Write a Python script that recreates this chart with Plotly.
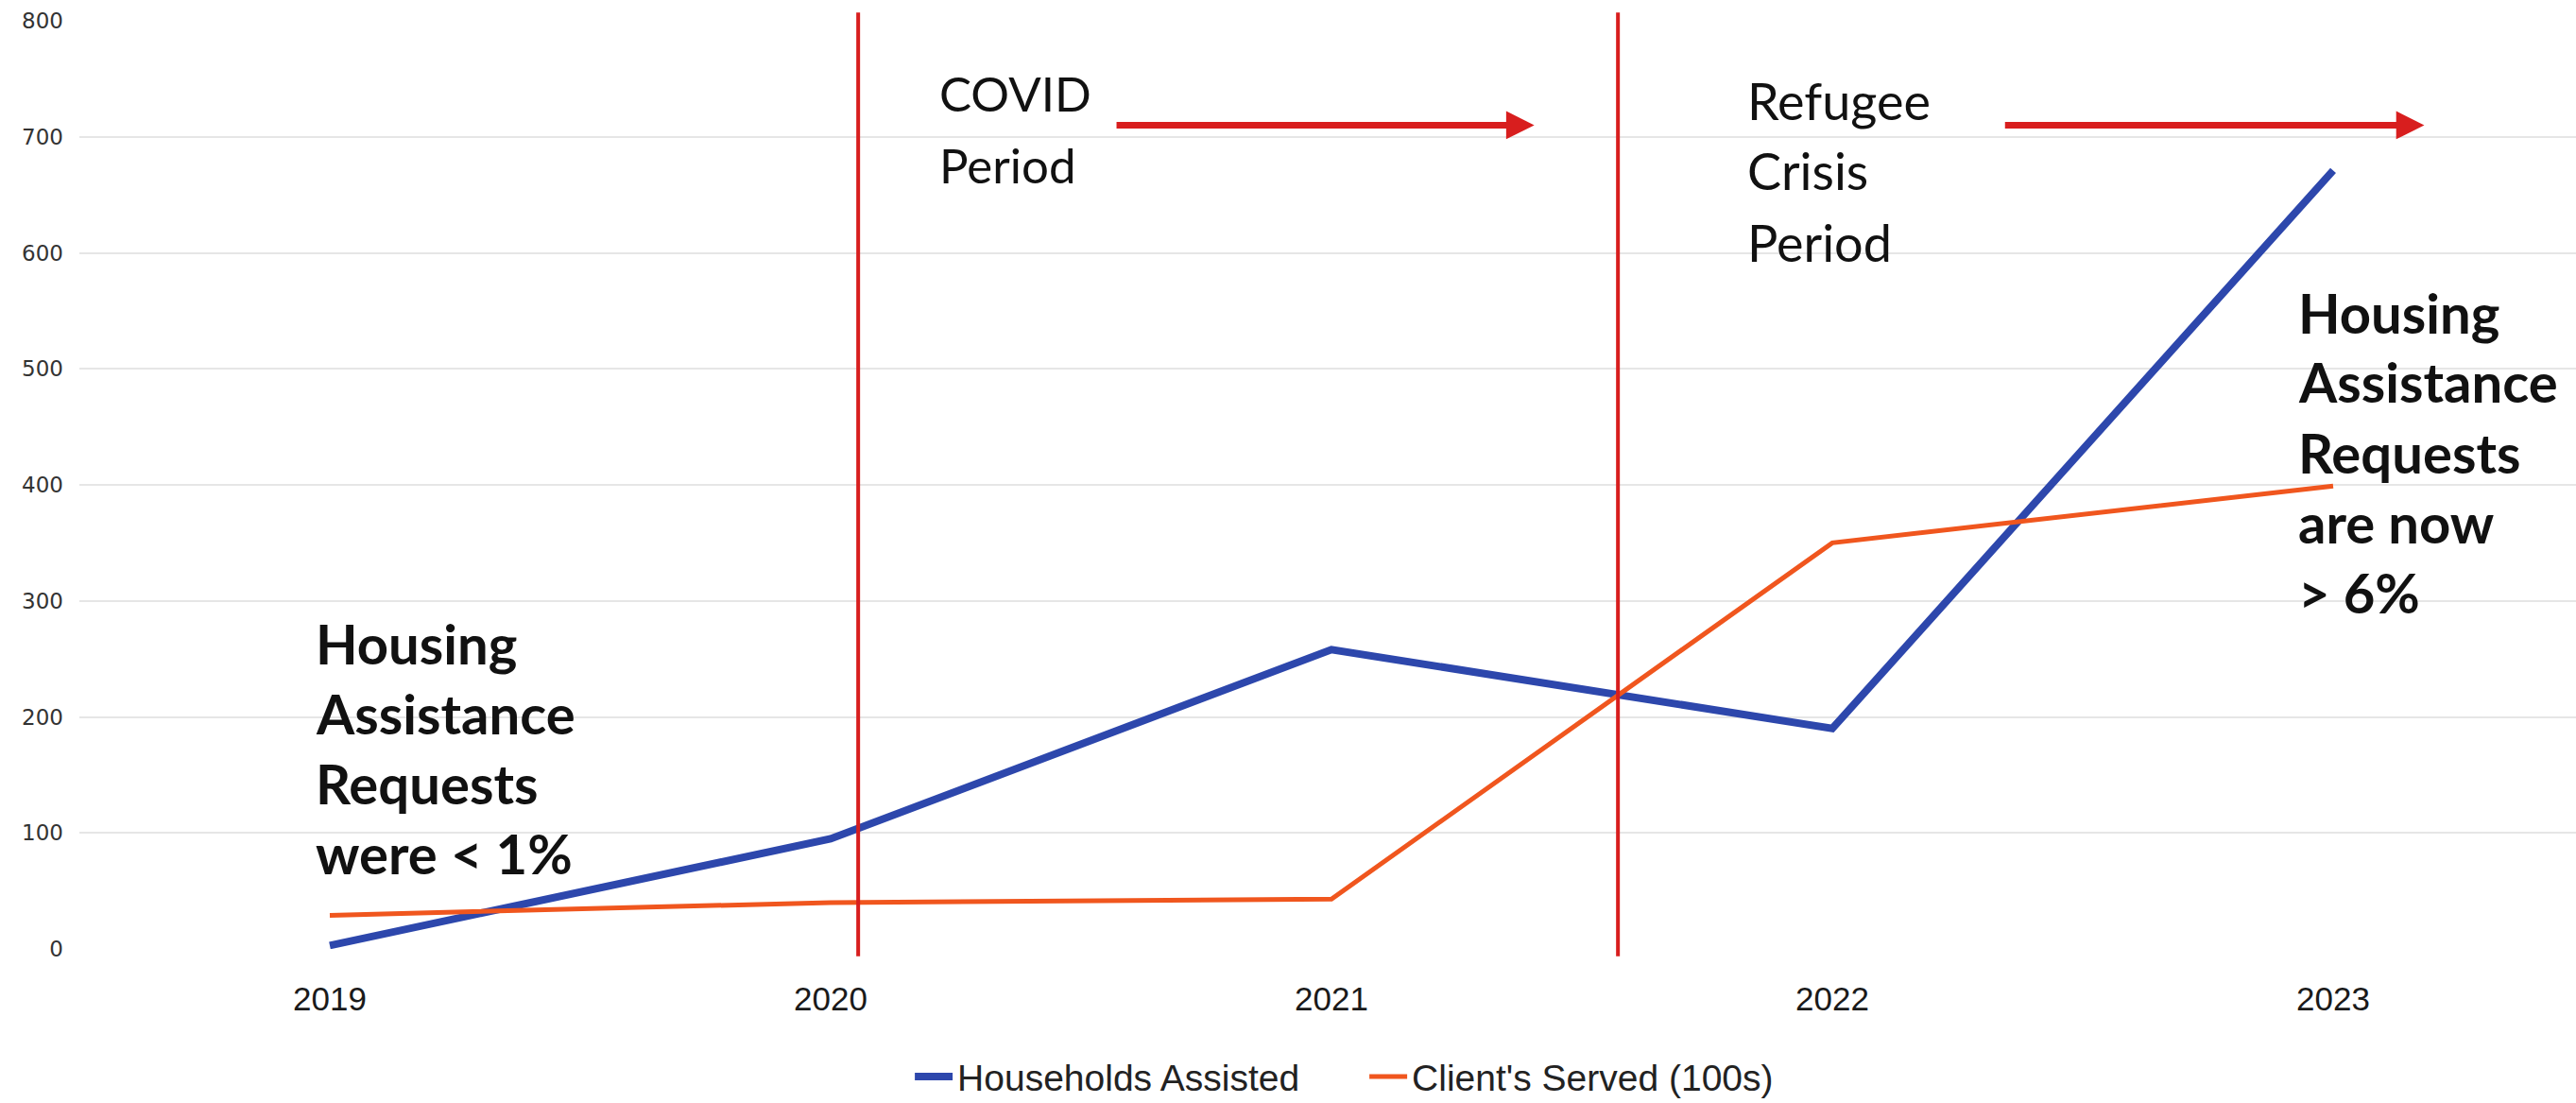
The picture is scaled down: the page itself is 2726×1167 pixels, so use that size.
import plotly.graph_objects as go

years = ["2019", "2020", "2021", "2022", "2023"]
households = [3, 95, 258, 190, 671]
clients_100s = [29, 40, 43, 350, 399]
y_ticks = [0, 100, 200, 300, 400, 500, 600, 700, 800]

period_lines_x = [1.055, 2.572]
covid_lines = ["COVID", "Period"]
refugee_lines = ["Refugee", "Crisis", "Period"]
left_note = ["Housing", "Assistance", "Requests", "were &lt; 1%"]
right_note = ["Housing", "Assistance", "Requests", "are now", "&gt; 6%"]

BLUE = "#2D47AC"
ORANGE = "#F0561E"
RED = "#D81E1E"
NARROW = "Liberation Sans Narrow, Arial Narrow, Liberation Sans"
TXT = "Lato, Open Sans, sans-serif"

L, T, W, H = 84, 22, 2642, 982  # plot area in pixels

fig = go.Figure()
fig.add_trace(go.Scatter(x=list(range(len(years))), y=households, mode="lines",
                         name="Households Assisted",
                         line=dict(color=BLUE, width=8)))
fig.add_trace(go.Scatter(x=list(range(len(years))), y=clients_100s, mode="lines",
                         name="Client's Served (100s)",
                         line=dict(color=ORANGE, width=5)))

for xv in period_lines_x:
    fig.add_shape(type="line", xref="x", yref="paper", x0=xv, x1=xv,
                  y0=-0.008, y1=1.009, line=dict(color=RED, width=4))

ann = []
def add_lines(lines, x_px, y0_px, dy_px, size, bold):
    for i, t in enumerate(lines):
        txt = f"<b>{t}</b>" if bold else t
        ann.append(dict(text=txt, xref="paper", yref="paper",
                        x=(x_px - L) / W, y=(T + H - (y0_px + i * dy_px)) / H,
                        xanchor="left", yanchor="middle", showarrow=False,
                        font=dict(family=TXT, size=size, color="#111111")))

add_lines(covid_lines, 992, 99, 76, 51, False)
add_lines(refugee_lines, 1847, 106, 75, 54, False)
add_lines(left_note, 332, 680, 74, 58, True)
add_lines(right_note, 2430, 330, 74, 58, True)

# arrows
for (x0, x1) in [(1.568, 2.405), (3.342, 4.182)]:
    ann.append(dict(x=x1, y=710, ax=x0, ay=710, xref="x", yref="y",
                    axref="x", ayref="y", text="", showarrow=True,
                    arrowhead=2, arrowsize=0.85, arrowwidth=7, arrowcolor=RED))

fig.update_layout(
    width=2726, height=1167,
    margin=dict(l=L, r=2726 - L - W, t=T, b=1167 - T - H, autoexpand=False),
    paper_bgcolor="white", plot_bgcolor="white",
    showlegend=True,
    legend=dict(orientation="h", x=0.5148, y=-0.1375, xanchor="center", yanchor="middle",
                font=dict(family=NARROW, size=39, color="#222222"),
                entrywidth=426, entrywidthmode="pixels",
                itemwidth=40, tracegroupgap=0),
    annotations=ann,
    xaxis=dict(range=[-0.5, -0.5 + W / 530], tickmode="array",
               tickvals=list(range(len(years))),
               ticktext=years, showgrid=False, zeroline=False, showline=False,
               ticks="", ticklabelstandoff=29, automargin=False,
               tickfont=dict(family=NARROW, size=35, color="#1a1a1a")),
    yaxis=dict(range=[0, 800], tickmode="array", tickvals=y_ticks,
               showgrid=True, gridcolor="#E6E6E6", gridwidth=2, zeroline=False,
               showline=False, ticks="", ticklabelstandoff=16, automargin=False,
               tickfont=dict(family="DejaVu Sans", size=23, color="#333333")),
)

fig.write_html("out.html", config={"displayModeBar": False},
               post_script="document.body.style.margin='0';")
